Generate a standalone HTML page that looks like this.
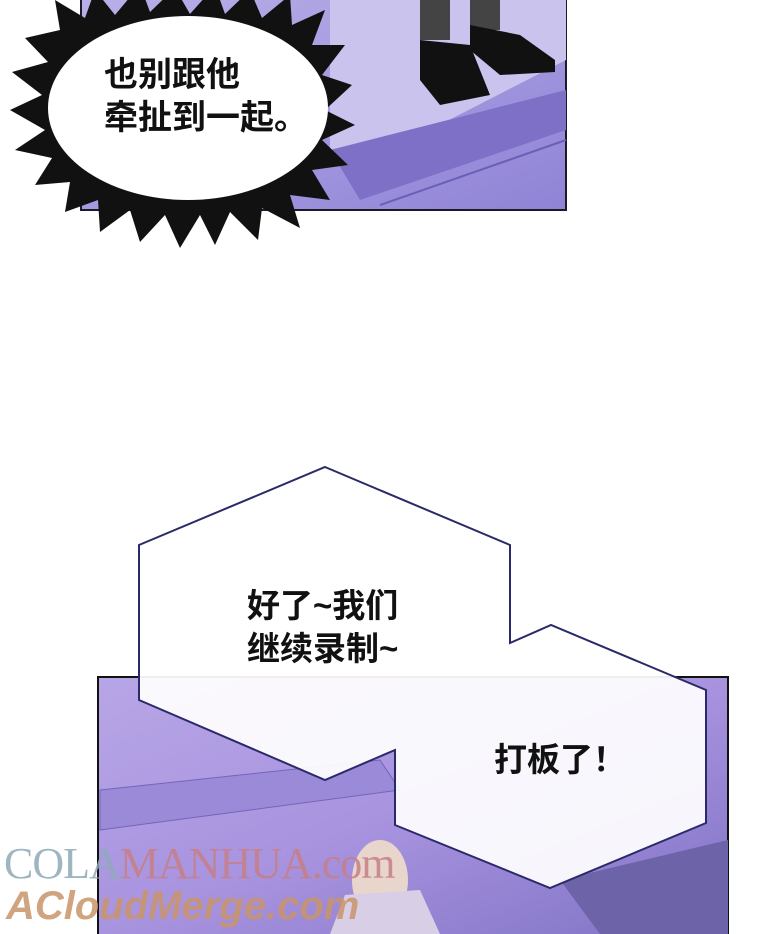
<!DOCTYPE html>
<html><head><meta charset="utf-8"><style>
body{margin:0;width:760px;height:934px;overflow:hidden;background:#fff;position:relative;font-family:"Liberation Sans","Noto Sans CJK SC",sans-serif}
svg{position:absolute;left:0;top:0}
.t{position:absolute;font-weight:bold;color:#111;font-size:33px;line-height:43px;white-space:nowrap}
</style></head><body>
<svg width="760" height="934" viewBox="0 0 760 934">
<defs>
<linearGradient id="fl" x1="0" y1="0" x2="1" y2="1"><stop offset="0" stop-color="#b9b0e8"/><stop offset="1" stop-color="#8f83d6"/></linearGradient>
<linearGradient id="bp" x1="0" y1="0" x2="1" y2="1"><stop offset="0" stop-color="#b7a6e6"/><stop offset="0.5" stop-color="#a893df"/><stop offset="1" stop-color="#7f72c4"/></linearGradient>
</defs>
<rect x="81" y="-2" width="485" height="212" fill="url(#fl)" stroke="#1a1a2a" stroke-width="2"/>
<polygon points="330,0 566,0 566,60 410,140 330,150" fill="#c9c3ee"/>
<polygon points="330,150 566,90 566,130 360,200" fill="#7d70c6"/>
<line x1="380" y1="205" x2="566" y2="140" stroke="#6a5fb5" stroke-width="2"/>
<rect x="420" y="0" width="30" height="40" fill="#444"/><rect x="470" y="0" width="30" height="30" fill="#444"/>
<path d="M420,40 L470,45 L490,95 L440,105 L420,80 Z" fill="#111"/>
<path d="M470,25 L520,35 L555,60 L555,72 L500,75 L470,50 Z" fill="#111"/>
<polygon fill="#111" points="60,30 55,0 85,18 95,-10 115,15 140,-15 150,12 175,-12 190,14 215,-14 225,14 250,-10 262,18 290,-5 292,25 325,10 312,45 345,45 322,75 352,85 325,110 355,125 322,140 348,165 312,170 330,200 290,195 300,228 262,208 258,240 230,212 215,245 200,215 180,248 165,215 140,242 130,210 100,232 98,200 65,212 70,182 35,185 52,158 15,150 45,130 10,110 42,95 12,72 48,62 25,38"/>
<ellipse cx="188" cy="108" rx="140" ry="92" fill="#fff"/>
<rect x="98" y="677" width="630" height="260" fill="url(#bp)" stroke="#111" stroke-width="2"/>
<polygon points="100,790 380,760 400,790 100,830" fill="#9b8ad8" stroke="#7465b8"/>
<polygon points="560,880 728,840 728,934 600,934" fill="#6d63a8"/>
<ellipse cx="380" cy="880" rx="28" ry="40" fill="#e8d6cc"/>
<path d="M330,934 L345,895 L420,890 L440,934 Z" fill="#d8cfe6"/>
<polygon points="325,467 510,545 510,643 551,625 706,690 706,823 550,888 395,825 395,750 325,780 139,700 139,545" fill="#fff" fill-opacity="0.93" stroke="#2a2a6a" stroke-width="2"/>
</svg>
<div class="t" style="left:104px;top:54px;font-size:34px;line-height:43px">也别跟他<br>牵扯到一起。</div>
<div class="t" style="left:247px;top:584px">好了~我们<br>继续录制~</div>
<div class="t" style="left:494px;top:738px">打板了！</div>
<div style="position:absolute;left:4px;top:838px;font-size:44px;font-family:'Liberation Serif',serif;color:#8faab8;opacity:.85;letter-spacing:-1px">COLA<span style="color:#c77f86">MANHUA.com</span></div>
<div style="position:absolute;left:6px;top:884px;font-size:40px;font-weight:bold;font-style:italic;color:#c9956a;opacity:.85">ACloudMerge.com</div>
</body></html>
